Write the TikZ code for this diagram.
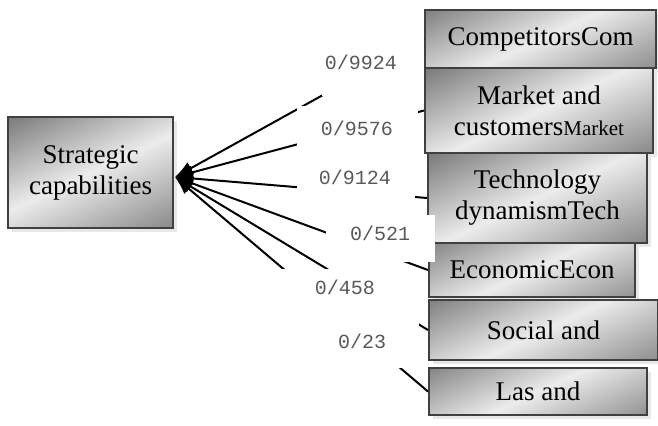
\documentclass[tikz,border=0pt]{standalone}
\usepackage{fontspec}
\setmainfont{Liberation Serif}
\setmonofont{Liberation Mono}
\usetikzlibrary{arrows.meta, shadows}

\tikzset{
    capbox/.style={rectangle, draw=gray!50!black, line width=1pt, fill=gray!40,
        path picture={\shade[top color=black!62, bottom color=black!55, middle color=gray!15, shading angle=25]
            ([xshift=-20pt,yshift=-20pt]path picture bounding box.south west) rectangle
            ([xshift=20pt,yshift=20pt]path picture bounding box.north east);},
        drop shadow={shadow xshift=2pt, shadow yshift=-2pt, fill=gray!35},
        font=\fontsize{13.5}{15.5}\selectfont, align=center, inner sep=0pt},
    link/.style={line width=1pt, -{Latex[length=9pt,width=7pt]}},
    weight/.style={font=\ttfamily\fontsize{10}{12}\selectfont, text=black!65, inner sep=0pt},
}

\begin{document}
\begin{tikzpicture}[x=0.5pt, y=-0.5pt]
    \useasboundingbox (0,0) rectangle (658,425);

    % factor boxes
    \node[capbox, minimum width=82.5pt, minimum height=55.5pt] (strat) at (90.5,172.5) {Strategic\\capabilities};
    \node[capbox, minimum width=115.5pt, minimum height=29pt] (comp) at (540.5,39) {CompetitorsCom};
    \node[capbox, minimum width=114pt, minimum height=42.5pt] (market) at (539,110.5) {Market and\\customers{\fontsize{10.5}{15.5}\selectfont Market}};
    \node[capbox, minimum width=109.5pt, minimum height=45pt] (tech) at (537.5,198) {Technology\\dynamismTech};
    \node[capbox, minimum width=103pt, minimum height=27pt] (econ) at (532,270) {EconomicEcon};
    \node[capbox, minimum width=114.5pt, minimum height=30pt] (social) at (543.5,330) {Social and};
    \node[capbox, minimum width=109pt, minimum height=23.5pt] (las) at (538,391.5) {Las and};

    \coordinate (hub) at (175,177);

    % links into the hub
    \draw[link] (comp.west) -- (hub);
    \draw[link] (market.west) -- (hub);
    \draw[link] (tech.west) -- (hub);
    \draw[link] (econ.west) -- (hub);
    \draw[link] (social.west) -- (hub);
    \draw[link] (las.west) -- (hub);

    % white label fields
    \fill[white] (322,20) rectangle (424,96);
    \fill[white] (297,106) rectangle (418,160);
    \fill[white] (297,160) rectangle (415,206);
    \fill[white] (326,215) rectangle (435,262);
    \fill[white] (280,269) rectangle (412,310);
    \fill[white] (320,305) rectangle (419,368);

    \node[weight] (w9924) at (361,62) {0/9924};
    \node[weight] (w9576) at (357,128) {0/9576};
    \node[weight] (w9124) at (355,177) {0/9124};
    \node[weight] (w521) at (380,233) {0/521};
    \node[weight] (w458) at (345,287) {0/458};
    \node[weight] (w23) at (362,341) {0/23};
\end{tikzpicture}
\end{document}
